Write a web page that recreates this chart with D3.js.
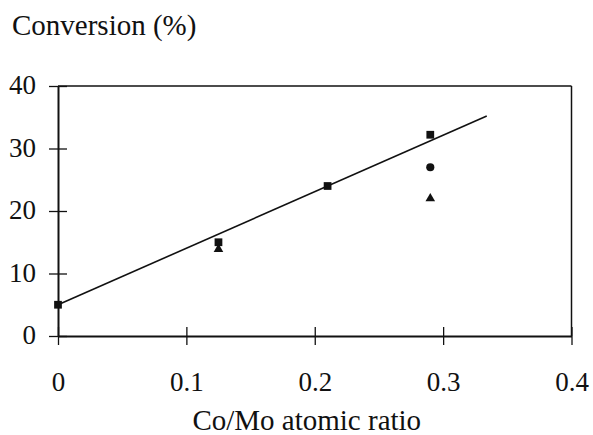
<!DOCTYPE html>
<html><head><meta charset="utf-8">
<script src="https://cdn.jsdelivr.net/npm/d3@7"></script>
<style>html,body{margin:0;padding:0;background:#fff;}svg{display:block;}</style>
</head><body><svg id="c" width="593" height="435"></svg>
<script>
const xTicks = [0, 0.1, 0.2, 0.3, 0.4];
const yTicks = [0, 10, 20, 30, 40];
const squareX = [0, 0.125, 0.21, 0.29];
const squareY = [5, 15, 24, 32.2];
const circleX = [0.29];
const circleY = [27];
const triangleX = [0.125, 0.29];
const triangleY = [13.9, 22];
const fitX = [0, 0.334];
const fitY = [5, 35.2];
const xTitle = "Co/Mo atomic ratio";
const yTitle = "Conversion (%)";

const FONT = "'Liberation Serif'";
const svg = d3.select("#c");
const L = 58, R = 571.5, T = 86, B = 336;
const x = d3.scaleLinear().domain([0, 0.4]).range([L, R]);
const y = d3.scaleLinear().domain([0, 40]).range([B, T]);

// frame
svg.append("line").attr("x1", L).attr("x2", R).attr("y1", T).attr("y2", T).attr("stroke", "#111").attr("stroke-width", 1.5);
svg.append("line").attr("x1", R).attr("x2", R).attr("y1", T).attr("y2", B).attr("stroke", "#111").attr("stroke-width", 1.5);

// axes
const xAxis = d3.axisBottom(x).tickValues(xTicks).tickSize(9).tickSizeOuter(0).tickFormat(d => d3.format("")(d));
const gx = svg.append("g").attr("transform", `translate(0,${B})`).call(xAxis).attr("font-family", null).attr("font-size", null);
gx.select(".domain").attr("stroke", "#111").attr("stroke-width", 2);
gx.selectAll(".tick line").attr("y1", -9).attr("y2", 9).attr("stroke", "#111").attr("stroke-width", 1.3);
gx.selectAll(".tick text").attr("y", 55).attr("dy", 0).style("font-size", "27px").style("font-family", FONT).attr("fill", "#111");

const yAxis = d3.axisLeft(y).tickValues(yTicks).tickSize(9).tickSizeOuter(0);
const gy = svg.append("g").attr("transform", `translate(${L},0)`).call(yAxis).attr("font-family", null).attr("font-size", null);
gy.select(".domain").attr("stroke", "#111").attr("stroke-width", 2);
gy.selectAll(".tick line").attr("x1", -9).attr("x2", 9).attr("stroke", "#111").attr("stroke-width", 1.3);
gy.selectAll(".tick text").attr("x", -22).attr("dy", "0.28em").style("font-size", "27px").style("font-family", FONT).attr("fill", "#111");

// titles
svg.append("text").attr("x", 12).attr("y", 35).style("font-size", "29px").style("font-family", FONT).attr("fill", "#111").text(yTitle);
svg.append("text").attr("x", x(0.2) - 8).attr("y", 430).attr("text-anchor", "middle").style("font-size", "29px").style("font-family", FONT).attr("fill", "#111").text(xTitle);

// fit line
const fit = fitX.map((v, i) => [v, fitY[i]]);
svg.append("path").attr("d", d3.line().x(d => x(d[0])).y(d => y(d[1]))(fit)).attr("fill", "none").attr("stroke", "#111").attr("stroke-width", 1.6);

// markers
const sq = squareX.map((v, i) => [v, squareY[i]]);
svg.selectAll(".sq").data(sq).enter().append("path")
  .attr("d", d3.symbol().type(d3.symbolSquare).size(60))
  .attr("transform", d => `translate(${x(d[0])},${y(d[1])})`).attr("fill", "#111");
const ci = circleX.map((v, i) => [v, circleY[i]]);
svg.selectAll(".ci").data(ci).enter().append("path")
  .attr("d", d3.symbol().type(d3.symbolCircle).size(52))
  .attr("transform", d => `translate(${x(d[0])},${y(d[1])})`).attr("fill", "#111");
const tr = triangleX.map((v, i) => [v, triangleY[i]]);
svg.selectAll(".tr").data(tr).enter().append("path")
  .attr("d", d3.symbol().type(d3.symbolTriangle).size(40))
  .attr("transform", d => `translate(${x(d[0])},${y(d[1])})`).attr("fill", "#111");
</script></body></html>
